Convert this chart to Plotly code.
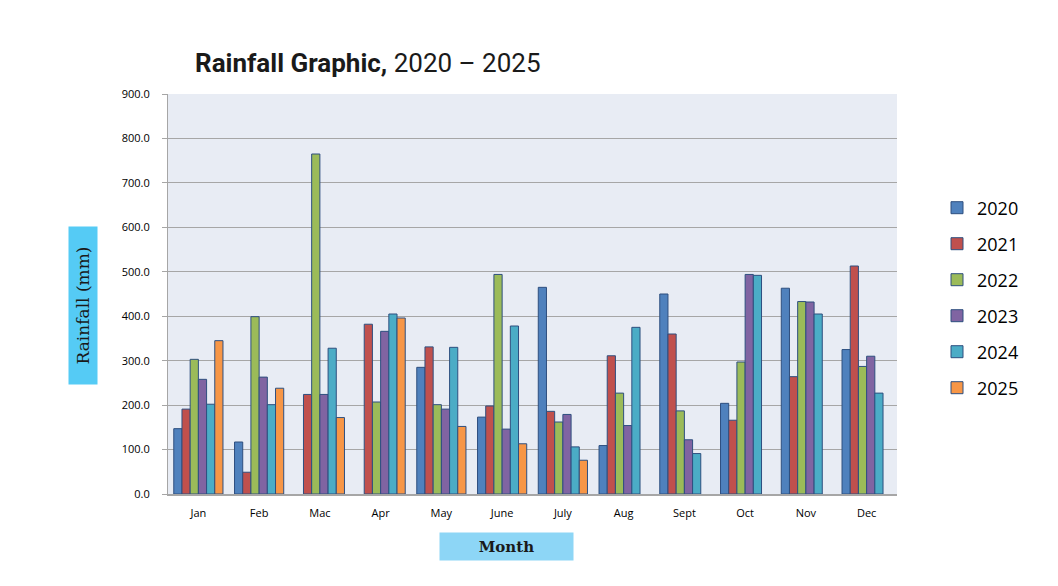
import plotly.graph_objects as go

months = ["Jan", "Feb", "Mac", "Apr", "May", "June", "July", "Aug", "Sept", "Oct", "Nov", "Dec"]
years = ["2020", "2021", "2022", "2023", "2024", "2025"]

r2020 = [147, 117, None, None, 285, 173, 465, 109, 450, 204, 463, 325]
r2021 = [191, 49, 224, 382, 331, 198, 186, 311, 360, 166, 264, 513]
r2022 = [303, 399, 765, 207, 201, 494, 162, 227, 187, 297, 433, 287]
r2023 = [258, 263, 224, 366, 191, 146, 179, 154, 122, 494, 432, 310]
r2024 = [202, 201, 328, 405, 330, 378, 106, 375, 91, 492, 405, 227]
r2025 = [345, 238, 172, 396, 152, 113, 76, None, None, None, None, None]

series = [r2020, r2021, r2022, r2023, r2024, r2025]
colors = ["#4F81BD", "#C0504D", "#9BBB59", "#8064A2", "#4BACC6", "#F79646"]

yticks = [0, 100, 200, 300, 400, 500, 600, 700, 800, 900]

fig = go.Figure()
for name, vals, col in zip(years, series, colors):
    fig.add_trace(go.Bar(
        x=months, y=vals, name=name, legendgroup=name,
        marker=dict(color=col, line=dict(color="#2E4F7F", width=1)),
    ))

OFF = 8  # page body margin
W, H = 1058 - OFF, 586 - OFF
PL, PR, PT, PB = 168, 897, 94, 494  # plot area in page pixels
L, T = PL - OFF, PT - OFF
R = W - L - (PR - PL)
B = H - T - (PB - PT)
PW, PH = PR - PL, PB - PT


def px(xp):
    return (xp - PL) / PW


def py(yp):
    return (PB - yp) / PH


fig.update_layout(
    width=W, height=H,
    margin=dict(l=L, r=R, t=T, b=B),
    paper_bgcolor="white",
    plot_bgcolor="#E8ECF4",
    barmode="group",
    bargap=0.19,
    bargroupgap=0,
    font=dict(family="Open Sans, sans-serif", color="#000000"),
    title=dict(
        text="<b>Rainfall Graphic,</b> 2020 – 2025",
        font=dict(family="Roboto", size=26, color="#1a1a1a"),
        x=px(195), xref="paper", xanchor="left",
        y=1 - (63 - OFF) / H, yref="container", yanchor="middle",
    ),
    legend=dict(
        x=px(937), xanchor="left", y=py(298), yanchor="middle",
        font=dict(family="Open Sans", size=18, color="#000"),
        tracegroupgap=9.6,
        traceorder="grouped",
        bgcolor="rgba(0,0,0,0)",
    ),
    showlegend=True,
)

fig.update_xaxes(
    showline=True, linecolor="#A6A6A6", linewidth=1.5,
    tickfont=dict(family="Open Sans", size=11, color="#000"),
    ticks="", showgrid=False, ticklabelstandoff=8,
)
fig.update_yaxes(
    range=[0, 900], tickvals=yticks, tickformat=".1f",
    showline=True, linecolor="#A6A6A6", linewidth=1,
    ticks="outside", ticklen=5, tickcolor="#A6A6A6",
    gridcolor="#A6A6A6", gridwidth=1,
    tickfont=dict(family="Open Sans", size=11, color="#000"),
    zeroline=False, ticklabelstandoff=10,
)

fig.add_annotation(
    text="Rainfall (mm)", textangle=-90,
    xref="paper", yref="paper",
    x=px(83), y=py(306),
    xanchor="center", yanchor="middle",
    showarrow=False, bgcolor="#55CBF5",
    width=155, height=26,
    font=dict(family="DejaVu Serif", size=17, color="#1a1a1a"),
)
fig.add_annotation(
    text="<b>Month</b>",
    xref="paper", yref="paper",
    x=px(506), y=py(546),
    xanchor="center", yanchor="middle",
    showarrow=False, bgcolor="#8DD6F6",
    width=131, height=25,
    font=dict(family="DejaVu Serif", size=15, color="#1a1a1a"),
)

fig.write_html("out.html")
